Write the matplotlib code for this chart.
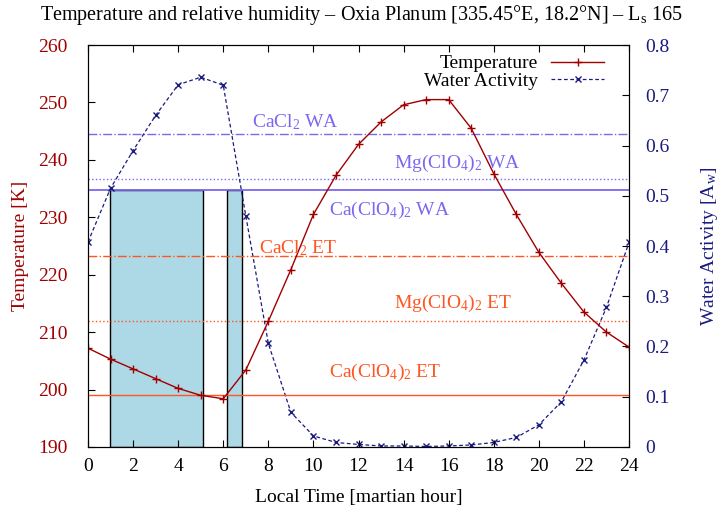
import matplotlib
matplotlib.use('Agg')
import matplotlib.pyplot as plt
import numpy as np

plt.rcParams['font.family'] = ['Liberation Serif', 'DejaVu Serif']
plt.rcParams['mathtext.fontset'] = 'custom'
plt.rcParams['mathtext.rm'] = 'Liberation Serif'
plt.rcParams['mathtext.it'] = 'Liberation Serif:italic'
plt.rcParams['font.size'] = 14

# ── data ──────────────────────────────────────────────────────────────
hours = list(range(0, 25))
temp = [207.2, 205.3, 203.6, 201.9, 200.2, 199.0, 198.4, 203.4, 211.9, 220.9,
        230.5, 237.3, 242.7, 246.6, 249.6, 250.5, 250.5, 245.5, 237.6, 230.5,
        223.9, 218.5, 213.5, 210.0, 207.4]
wa = [0.408, 0.515, 0.590, 0.660, 0.721, 0.736, 0.720, 0.460, 0.206, 0.069,
      0.022, 0.009, 0.005, 0.002, 0.002, 0.001, 0.002, 0.004, 0.009, 0.019,
      0.044, 0.090, 0.173, 0.278, 0.407]

# salt thresholds: water activity (WA) and eutectic temperature (ET)
wa_salts = ["CaCl$_2$ WA", "Mg(ClO$_4$)$_2$ WA", "Ca(ClO$_4$)$_2$ WA"]
wa_levels = [0.622, 0.533, 0.512]
et_salts = ["CaCl$_2$ ET", "Mg(ClO$_4$)$_2$ ET", "Ca(ClO$_4$)$_2$ ET"]
et_levels = [223.2, 212.0, 199.0]

# windows where Ca(ClO4)2 brine is stable (start hour, end hour)
win_start = [0.97, 6.17]
win_end = [5.1, 6.82]

C_T = "#a00000"
C_WA = "#1a1a80"
C_WAL = "#7b68ee"
C_ETL = "#ff5522"
styles = ["-.", ":", "-"]

fig = plt.figure(figsize=(7.22, 5.12), dpi=100)
ax = fig.add_axes([0.1219, 0.127, 0.7493, 0.785])
ax2 = ax.twinx()
ax.set_zorder(ax2.get_zorder() + 1)
ax.patch.set_visible(False)

# shaded windows on the WA axis, up to the Ca(ClO4)2 WA level
ax2.bar(win_start, [wa_levels[2]] * len(win_start),
        width=np.array(win_end) - np.array(win_start), align="edge",
        color="#add8e6", edgecolor="black", linewidth=1, zorder=1)

for lvl, ls in zip(wa_levels, styles):
    ax2.axhline(lvl, color=C_WAL, ls=ls, lw=1.3 if ls == "-" else 1, zorder=2)
l2, = ax2.plot(hours, wa, color=C_WA, ls="--", dashes=(3, 2), lw=0.9,
               marker="x", ms=5, mew=1, label="Water Activity", zorder=3)

for lvl, ls in zip(et_levels, styles):
    ax.axhline(lvl, color=C_ETL, ls=ls, lw=1)
l1, = ax.plot(hours, temp, color=C_T, lw=1, marker="+", ms=6, mew=1,
              label="Temperature")

# threshold labels
ax2.text(9.2, 0.636, wa_salts[0], color=C_WAL, ha="center", va="baseline")
ax2.text(16.4, 0.555, wa_salts[1], color=C_WAL, ha="center", va="baseline")
ax2.text(13.4, 0.462, wa_salts[2], color=C_WAL, ha="center", va="baseline")
ax.text(9.3, 223.8, et_salts[0], color=C_ETL, ha="center", va="baseline")
ax.text(16.2, 214.2, et_salts[1], color=C_ETL, ha="center", va="baseline")
ax.text(13.2, 202.2, et_salts[2], color=C_ETL, ha="center", va="baseline")

ax.set_xlim(0, 24)
ax.set_ylim(190, 260)
ax2.set_ylim(0, 0.8)
ax.set_xticks(range(0, 25, 2))
ax.set_yticks(range(190, 261, 10))
ax2.set_yticks(np.arange(0, 0.81, 0.1))
ax2.set_yticklabels(["0"] + [f"{v:.1f}" for v in np.arange(0.1, 0.81, 0.1)])
ax.tick_params(axis="x", direction="in", top=True, length=5, pad=8)
ax.tick_params(axis="y", direction="in", length=5, labelcolor=C_T, pad=15)
ax2.tick_params(axis="y", direction="in", length=5, labelcolor=C_WA, pad=12)

ax.set_xlabel("Local Time [martian hour]", labelpad=10)
ax.set_ylabel("Temperature [K]", color=C_T, labelpad=6)
ax2.set_ylabel("Water Activity [A$_\\mathrm{w}$]", color=C_WA, labelpad=21)

ax.legend(handles=[l1, l2], loc="upper right", bbox_to_anchor=(0.975, 1.005),
          markerfirst=False, frameon=False, handlelength=2.7,
          handletextpad=0.7, labelspacing=0.0, borderaxespad=0.3,
          borderpad=0.3)

fig.suptitle("Temperature and relative humidity \u2013 Oxia Planum "
             "[335.45\u00b0E, 18.2\u00b0N] \u2013 L$_\\mathrm{s}$ 165",
             y=0.995, fontsize=14.5)

fig.savefig("out.png", dpi=100)
